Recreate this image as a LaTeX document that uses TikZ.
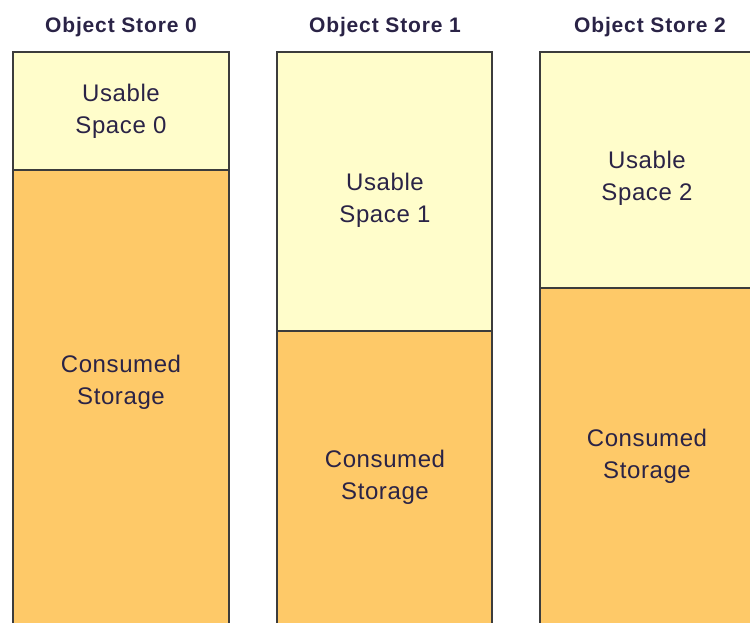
\documentclass[tikz,border=0pt]{standalone}
\usepackage{fontspec}
\setmainfont{Liberation Sans}
\newfontfamily\storefont[LetterSpace=2.5]{Liberation Sans}
\newfontfamily\headfont[LetterSpace=4]{Liberation Sans}
\definecolor{usablecol}{HTML}{FFFDCB}
\definecolor{consumedcol}{HTML}{FEC968}
\definecolor{inkcol}{HTML}{2A2346}
\definecolor{edgecol}{HTML}{3C3C3C}

\begin{document}
\begin{tikzpicture}[x=1pt,y=-1pt, every node/.style={align=center,text=inkcol},
 store/.style={draw=edgecol,line width=1.6pt},
 head/.style={font=\headfont\bfseries\fontsize{21}{24}\selectfont},
 part/.style={font=\storefont\fontsize{24}{32}\selectfont}]
\useasboundingbox (0,0) rectangle (750,623);
\clip (0,0) rectangle (750,623);
% store 0
\draw[store,fill=usablecol] (13,52) rectangle (229,170);
\draw[store,fill=consumedcol] (13,170) rectangle (229,650);
\node[head] (head0) at (121,27) {Object Store 0};
\node[part] (free0) at (121,111) {Usable\\Space 0};
\node[part] (used0) at (121,382) {Consumed\\Storage};
% store 1
\draw[store,fill=usablecol] (277,52) rectangle (492,331);
\draw[store,fill=consumedcol] (277,331) rectangle (492,650);
\node[head] (head1) at (385,27) {Object Store 1};
\node[part] (free1) at (385,200) {Usable\\Space 1};
\node[part] (used1) at (385,477) {Consumed\\Storage};
% store 2
\draw[store,fill=usablecol] (540,52) rectangle (756,288);
\draw[store,fill=consumedcol] (540,288) rectangle (756,650);
\node[head] (head2) at (650,27) {Object Store 2};
\node[part] (free2) at (647,178) {Usable\\Space 2};
\node[part] (used2) at (647,456) {Consumed\\Storage};
\end{tikzpicture}
\end{document}
